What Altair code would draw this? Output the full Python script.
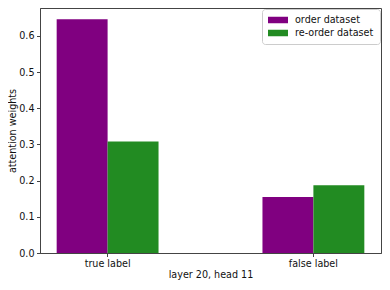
import altair as alt
import pandas as pd

categories = ["true label", "false label"]
series = ["order dataset", "re-order dataset"]
order_vals = [0.646, 0.155]
reorder_vals = [0.308, 0.187]
colors = ["#800080", "#228B22"]

rows = []
for c, a, b in zip(categories, order_vals, reorder_vals):
    rows.append({"label": c, "series": series[0], "value": a})
    rows.append({"label": c, "series": series[1], "value": b})
df = pd.DataFrame(rows)

FONT = "DejaVu Sans"
FS = 9.6

chart = alt.Chart(df).mark_bar().encode(
    x=alt.X("label:N", sort=categories,
            scale=alt.Scale(paddingInner=0.505, paddingOuter=0.081),
            axis=alt.Axis(title="layer 20, head 11", labelAngle=0, tickSize=3.5,
                          labelPadding=2, titlePadding=1)),
    xOffset=alt.XOffset("series:N", sort=series,
                        scale=alt.Scale(paddingInner=0, paddingOuter=0)),
    y=alt.Y("value:Q", scale=alt.Scale(domain=[0, 0.677], nice=False),
            axis=alt.Axis(title="attention weights", values=[0, 0.1, 0.2, 0.3, 0.4, 0.5, 0.6],
                          format=".1f", tickSize=3.5, labelPadding=2.5, titlePadding=1)),
    color=alt.Color("series:N", sort=series,
                    scale=alt.Scale(domain=series, range=colors),
                    legend=alt.Legend(title=None, orient="top-right", offset=1,
                                      symbolType="M-1,-0.65H3V0.65H-1Z", symbolSize=100,
                                      symbolStrokeWidth=0, labelOffset=17,
                                      labelFontSize=FS, labelFont=FONT,
                                      fillColor="white", strokeColor="#cccccc",
                                      cornerRadius=3, padding=6, rowPadding=3,
                                      labelColor="#111")),
).properties(
    width=341, height=245,
    autosize=alt.AutoSizeParams(type="none"),
    padding={"left": 32, "top": 0, "right": 1, "bottom": 27},
).configure_view(
    stroke="#444", strokeWidth=1
).configure_axis(
    grid=False, domainColor="#444", tickColor="#444", labelFont=FONT, titleFont=FONT,
    labelFontSize=FS, titleFontSize=FS, titleFontWeight="normal", labelColor="#111",
    titleColor="#111"
)

chart.save("out.html", embed_options={"renderer": "svg", "actions": False})
